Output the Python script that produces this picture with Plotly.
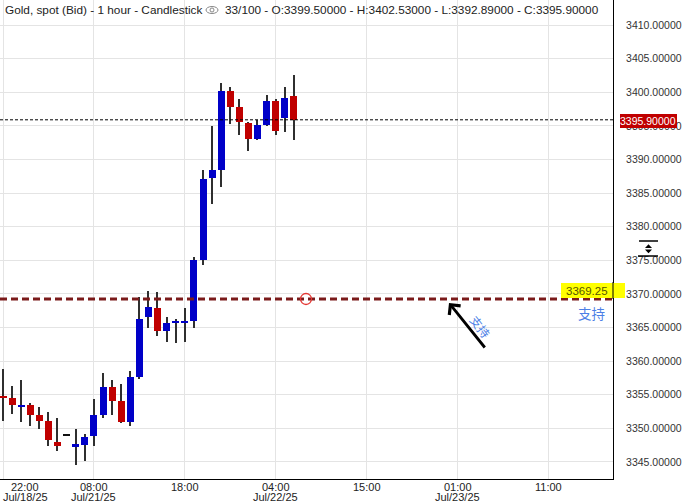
import plotly.graph_objects as go

# ---------------- data ----------------
opens = [3354.8, 3354.5, 3353.3, 3353.5, 3352.0, 3351.1, 3348.0, 3349.1, 3347.2, 3347.6,
         3348.8, 3352.0, 3356.1, 3354.1, 3351.0, 3357.7, 3366.5, 3367.9, 3364.5, 3365.7,
         3365.8, 3366.0, 3375.1, 3387.3, 3388.5, 3400.2, 3397.8, 3395.4, 3393.1, 3395.2,
         3398.7, 3396.1, 3399.5]
highs = [3358.8, 3356.3, 3357.2, 3353.8, 3353.2, 3352.4, 3351.5, 3349.1, 3349.9, 3349.2,
         3354.4, 3358.2, 3357.2, 3356.6, 3358.6, 3369.5, 3370.4, 3370.3, 3366.6, 3366.3,
         3367.9, 3375.5, 3388.4, 3395.0, 3401.4, 3400.8, 3399.0, 3395.6, 3395.8, 3399.6,
         3399.0, 3400.8, 3402.53]
lows = [3351.1, 3352.1, 3350.9, 3350.4, 3349.9, 3347.4, 3346.7, 3349.1, 3344.6, 3345.2,
        3347.4, 3351.6, 3352.0, 3350.8, 3350.4, 3357.4, 3365.0, 3363.8, 3362.9, 3362.7,
        3362.8, 3365.0, 3374.3, 3383.4, 3385.9, 3395.3, 3393.7, 3391.3, 3392.9, 3395.0,
        3393.7, 3394.1, 3392.89]
closes = [3354.6, 3353.5, 3353.45, 3352.0, 3351.1, 3348.2, 3347.4, 3349.1, 3347.7, 3348.7,
          3352.0, 3356.2, 3354.1, 3351.0, 3357.6, 3366.3, 3368.1, 3364.5, 3365.7, 3365.85,
          3365.95, 3375.0, 3387.1, 3388.4, 3400.2, 3397.8, 3395.5, 3393.1, 3395.1, 3398.7,
          3394.3, 3399.1, 3395.9]

tick_idx = [0, 10, 20, 30, 40, 50, 60]
tick_times = ["22:00", "08:00", "18:00", "04:00", "15:00", "01:00", "11:00"]
tick_dates = ["Jul/18/25", "Jul/21/25", "", "Jul/22/25", "", "Jul/23/25", ""]

last_price = 3395.90
support_price = 3369.25
support_label = "支持"
header_left = "Gold, spot (Bid) - 1 hour - Candlestick"
header_right = "33/100 - O:3399.50000 - H:3402.53000 - L:3392.89000 - C:3395.90000"

# ---------------- geometry helpers ----------------
W_PLOT, H_PLOT = 613, 479


def px(x):
    return x / W_PLOT


def py(y):
    return 1 - y / H_PLOT


UP, DOWN, FLAT = "#0000C8", "#C00000", "#111111"
MIN_BODY = 0.18

n = len(opens)
idx = list(range(n))
body_col, body_base, body_h = [], [], []
for o, c in zip(opens, closes):
    body_col.append(UP if c > o else (DOWN if c < o else FLAT))
    d = abs(c - o)
    if d >= MIN_BODY:
        body_base.append(min(o, c))
        body_h.append(d)
    else:
        body_base.append((o + c) / 2 - MIN_BODY / 2)
        body_h.append(MIN_BODY)

fig = go.Figure()
fig.add_trace(go.Bar(x=idx, base=lows, y=[h - l for h, l in zip(highs, lows)],
                     width=0.13, marker=dict(color="#2f2f2f", line_width=0),
                     hoverinfo="skip"))
fig.add_trace(go.Bar(x=idx, base=body_base, y=body_h, width=0.77,
                     marker=dict(color=body_col, line_width=0), hoverinfo="skip"))

FONT = "Liberation Sans, Arial, sans-serif"
CJK = "Noto Sans CJK SC, sans-serif"

fig.update_layout(
    width=683, height=503,
    margin=dict(l=0, r=70, t=0, b=24),
    paper_bgcolor="white", plot_bgcolor="white",
    barmode="overlay", bargap=0, showlegend=False,
    font=dict(family=FONT, size=11, color="#222"),
)
fig.update_xaxes(range=[-0.33, 67.1], tickvals=tick_idx, showticklabels=False,
                 showgrid=True, gridcolor="#e4e4e4", gridwidth=1, zeroline=False,
                 showline=True, linecolor="black", linewidth=1, ticks="")
fig.update_yaxes(side="right", range=[3342.47, 3413.72], tick0=3345, dtick=5,
                 tickformat=".5f", showgrid=True, gridcolor="#e4e4e4", gridwidth=1,
                 zeroline=False, showline=True, linecolor="black", linewidth=1,
                 ticks="", ticklabelstandoff=10,
                 tickfont=dict(family=FONT, size=10.5, color="#333"))

shapes = []
# last price dotted line
shapes.append(dict(type="line", xref="paper", yref="y", x0=0, x1=1, y0=last_price,
                   y1=last_price, line=dict(color="black", width=1, dash="3px,2px")))
# support dashed line
shapes.append(dict(type="line", xref="paper", yref="y", x0=0, x1=1, y0=support_price,
                   y1=support_price, line=dict(color="#7a1a1a", width=3, dash="7px,4px")))
# small red circle on support line
shapes.append(dict(type="circle", xref="paper", yref="paper",
                   x0=px(300.5), x1=px(311.5), y0=py(304.5), y1=py(293.5),
                   line=dict(color="#e53935", width=1.3)))
# yellow highlight label
shapes.append(dict(type="rect", xref="paper", yref="paper",
                   x0=px(561), x1=px(625), y0=py(298), y1=py(283),
                   fillcolor="#FFFF00", line_width=0, layer="above"))
shapes.append(dict(type="line", xref="paper", yref="paper", x0=1, x1=1,
                   y0=py(299), y1=py(282), line=dict(color="black", width=1)))
# price tag box
shapes.append(dict(type="rect", xref="paper", yref="paper",
                   x0=px(620), x1=px(677), y0=py(128), y1=py(114),
                   fillcolor="#C00000", line_width=0, layer="above"))
# eye icon in header
shapes.append(dict(type="circle", xref="paper", yref="paper",
                   x0=px(206), x1=px(218), y0=py(13.5), y1=py(6.5),
                   line=dict(color="#888", width=1)))
shapes.append(dict(type="circle", xref="paper", yref="paper",
                   x0=px(210), x1=px(214), y0=py(12), y1=py(8),
                   line=dict(color="#888", width=1)))
# scale icon at right
shapes.append(dict(type="line", xref="paper", yref="paper", x0=px(639), x1=px(658),
                   y0=py(241), y1=py(241), line=dict(color="black", width=1.5)))
shapes.append(dict(type="line", xref="paper", yref="paper", x0=px(638), x1=px(658),
                   y0=py(256), y1=py(256), line=dict(color="black", width=1.5)))
for tri in ([(645, 248), (648.5, 244.2), (652, 248)], [(645, 249.4), (648.5, 253.2), (652, 249.4)]):
    path = "M {} {} L {} {} L {} {} Z".format(px(tri[0][0]), py(tri[0][1]), px(tri[1][0]),
                                           py(tri[1][1]), px(tri[2][0]), py(tri[2][1]))
    shapes.append(dict(type="path", xref="paper", yref="paper", path=path,
                       fillcolor="black", line_width=0))
fig.update_layout(shapes=shapes)

ann = []
# header
ann.append(dict(xref="paper", yref="paper", x=px(3), y=py(10), xanchor="left",
                yanchor="middle", text=header_left, showarrow=False,
                font=dict(family=FONT, size=11.8, color="#222")))
ann.append(dict(xref="paper", yref="paper", x=px(223), y=py(10), xanchor="left",
                yanchor="middle", text=header_right, showarrow=False,
                font=dict(family=FONT, size=11.8, color="#222")))
# x axis labels
for i, (t, d) in enumerate(zip(tick_times, tick_dates)):
    shift = 22 if i == 0 else 0
    ann.append(dict(xref="x", yref="paper", x=tick_idx[i], y=py(486.5), xshift=shift,
                    xanchor="center", yanchor="middle", text=t, showarrow=False,
                    font=dict(family=FONT, size=11, color="#222")))
    if d:
        ann.append(dict(xref="x", yref="paper", x=tick_idx[i], y=py(497.5), xshift=shift,
                        xanchor="center", yanchor="middle", text=d, showarrow=False,
                        font=dict(family=FONT, size=11, color="#222")))
# price tag text
ann.append(dict(xref="paper", yref="paper", x=px(648.5), y=py(121), xanchor="center",
                yanchor="middle", text="{:.5f}".format(last_price), showarrow=False,
                font=dict(family=FONT, size=10.5, color="white")))
# support label on yellow
ann.append(dict(xref="paper", yref="paper", x=px(587), y=py(291), xanchor="center",
                yanchor="middle", text="{:.2f}".format(support_price), showarrow=False,
                font=dict(family=FONT, size=11.5, color="#555500")))
ann.append(dict(xref="paper", yref="paper", x=px(591), y=py(313), xanchor="center",
                yanchor="middle", text=support_label, showarrow=False,
                font=dict(family=CJK, size=13.5, color="#4d7fe6")))
# arrow
ann.append(dict(xref="paper", yref="paper", x=px(449), y=py(303), text="",
                showarrow=True, ax=37, ay=46, arrowhead=4, arrowsize=1,
                arrowwidth=2.8, arrowcolor="black", standoff=0))
ann.append(dict(xref="paper", yref="paper", x=px(481), y=py(326), text=support_label,
                showarrow=False, textangle=52, xanchor="center", yanchor="middle",
                font=dict(family=CJK, size=12, color="#4d7fe6")))
fig.update_layout(annotations=ann)

fig.write_html("out.html", config={"displayModeBar": False},
               post_script="document.body.style.margin='0';")
